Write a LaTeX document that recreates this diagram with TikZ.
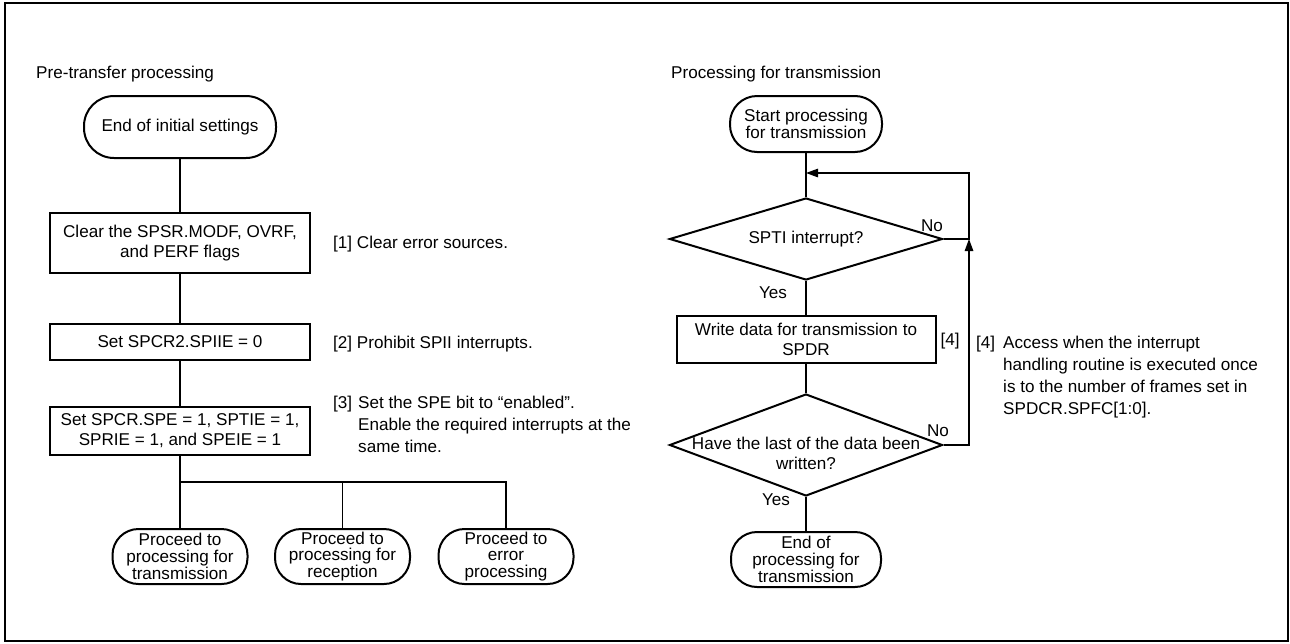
\documentclass[tikz,border=0pt]{standalone}
\usepackage{fontspec}
\setmainfont{Liberation Sans}
\usetikzlibrary{shapes.geometric,arrows.meta}
\begin{document}
\begin{tikzpicture}[x=1pt,y=-1pt,
 every node/.style={font=\fontsize{17.1}{20}\selectfont,inner sep=0pt},
 proc/.style={draw,line width=2pt,align=center},
 term/.style={draw,line width=2pt,rounded corners=26pt,align=center,font=\fontsize{17.1}{16.8}\selectfont},
 dec/.style={draw,diamond,line width=2pt,minimum width=273pt},
 note/.style={anchor=base west,font=\fontsize{17.1}{22}\selectfont},
 conn/.style={line width=1.3pt},
 tip/.style={-{Triangle[length=12pt,width=8.5pt]}}]
 \useasboundingbox (0,0) rectangle (1290,643);
 \draw[line width=2.6pt] (5,3) rectangle (1288,641);
 % pre-transfer processing
 \node[anchor=base west] (hl) at (36,78) {Pre-transfer processing};
 \node[term,minimum width=192pt,minimum height=62pt,rounded corners=30pt] (t0) at (180,127) {End of initial settings};
 \node[proc,minimum width=260pt,minimum height=60pt] (b1) at (180,243) {Clear the SPSR.MODF, OVRF,\\and PERF flags};
 \node[proc,minimum width=260pt,minimum height=36pt] (b2) at (180,342) {Set SPCR2.SPIIE = 0};
 \node[proc,minimum width=260pt,minimum height=48pt] (b3) at (180,431) {Set SPCR.SPE = 1, SPTIE = 1,\\SPRIE = 1, and SPEIE = 1};
 \node[term,minimum width=135pt,minimum height=55pt] (p1) at (180,556.5) {Proceed to\\processing for\\transmission};
 \node[term,minimum width=135pt,minimum height=55pt] (p2) at (342.5,556.5) {Proceed to\\processing for\\reception};
 \node[term,minimum width=135pt,minimum height=55pt] (p3) at (506,556.5) {Proceed to\\error\\processing};
 \node[note] (c1) at (333,248) {[1] Clear error sources.};
 \node[note] (c2) at (333,348) {[2] Prohibit SPII interrupts.};
 \node[note] (c3) at (333,408) {\begin{tabular}[t]{@{}p{25pt}@{}l@{}}{[3]}&Set the SPE bit to “enabled”.\\&Enable the required interrupts at the\\&same time.\end{tabular}};
 \coordinate (sp) at (180,482);
 \draw[conn] (t0) -- (b1);
 \draw[conn] (b1) -- (b2);
 \draw[conn] (b2) -- (b3);
 \draw[conn] (b3) -- (p1);
 \draw[conn] (sp) -| (p2.north);
 \draw[conn] (sp) -| (p3.north);
 % processing for transmission
 \node[anchor=base west] (hr) at (671,78) {Processing for transmission};
 \node[term,minimum width=152pt,minimum height=56pt,rounded corners=27pt] (s0) at (806,124) {Start processing\\for transmission};
 \node[dec,minimum height=82pt] (d1) at (806,239) {};
 \node (d1t) at (806,239) {SPTI interrupt?};
 \node[proc,minimum width=259pt,minimum height=47pt] (b4) at (806,339.5) {Write data for transmission to\\SPDR};
 \node[dec,minimum height=102pt] (d2) at (806,445) {};
 \node[align=center] (d2t) at (806,453) {Have the last of the data been\\written?};
 \node[term,minimum width=150pt,minimum height=55pt] (e0) at (806,559.5) {End of\\processing for\\transmission};
 \node (no1) at (932,226) {No};
 \node (yes1) at (773,293) {Yes};
 \node (no2) at (938,431) {No};
 \node (yes2) at (776,500) {Yes};
 \node (m4) at (950,341) {[4]};
 \node[note] (c4) at (976,348) {\begin{tabular}[t]{@{}p{27pt}@{}l@{}}{[4]}&Access when the interrupt\\&handling routine is executed once\\&is to the number of frames set in\\&SPDCR.SPFC[1:0].\end{tabular}};
 \coordinate (j0) at (806,173);
 \coordinate (j1) at (969,239);
 \draw[conn] (s0) -- (d1);
 \draw[conn] (d1) -- (b4);
 \draw[conn] (b4) -- (d2);
 \draw[conn] (d2) -- (e0);
 \draw[conn,tip] (d1.east) -- (j1) |- (j0);
 \draw[conn,tip] (d2.east) -| (j1);
\end{tikzpicture}
\end{document}
